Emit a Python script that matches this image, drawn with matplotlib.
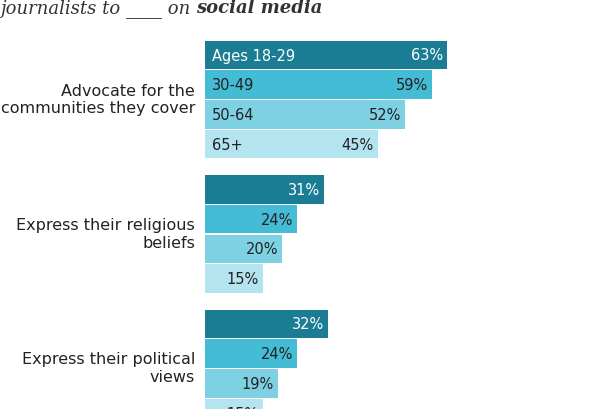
import matplotlib
matplotlib.use("Agg")
import matplotlib.pyplot as plt

groups = ["Advocate for the\ncommunities they cover", "Express their religious\nbeliefs",
          "Express their political\nviews"]
ages = ["Ages 18-29", "30-49", "50-64", "65+"]
values = [[63, 59, 52, 45], [31, 24, 20, 15], [32, 24, 19, 15]]
COLORS = ["#1a7d93", "#45bcd5", "#7ed1e3", "#b3e4ef"]
TXT = ["white", "#222222", "#222222", "#222222"]

W, H = 590, 410
PX_PER_PCT = 3.84
fig = plt.figure(figsize=(W / 100, H / 100), dpi=100)
ax = fig.add_axes([205 / W, 0, (W - 205) / W, 1])
ax.set_xlim(0, (W - 205) / PX_PER_PCT)
ax.set_ylim(H, 0)
ax.axis("off")

for g, vals in enumerate(values):
    y0 = 56 + g * 134.5
    for i, v in enumerate(vals):
        y = y0 + i * 29.7
        ax.barh(y, v, height=28.5, color=COLORS[i])
        ax.text(v - 1.0, y, f"{v}%", ha="right", va="center", fontsize=10.5, color=TXT[i])
        if g == 0:
            ax.text(1.8, y, ages[i], ha="left", va="center", fontsize=10.5, color=TXT[i])
    fig.text(195 / W, 1 - (y0 + 44) / H, groups[g], ha="right", va="center",
             fontsize=11.5, color="#222222", linespacing=1.25)

t1 = fig.text(0, 1 - 13 / H, "journalists to ____ on ", fontsize=13, style="italic",
              family="DejaVu Serif", color="#333333", va="baseline")
fig.canvas.draw()
bb = t1.get_window_extent()
fig.text(bb.x1 / W, 1 - 13 / H, "social media", fontsize=13, style="italic", weight="bold",
         family="DejaVu Serif", color="#333333", va="baseline")

fig.savefig("out.png", dpi=100, facecolor="white")
